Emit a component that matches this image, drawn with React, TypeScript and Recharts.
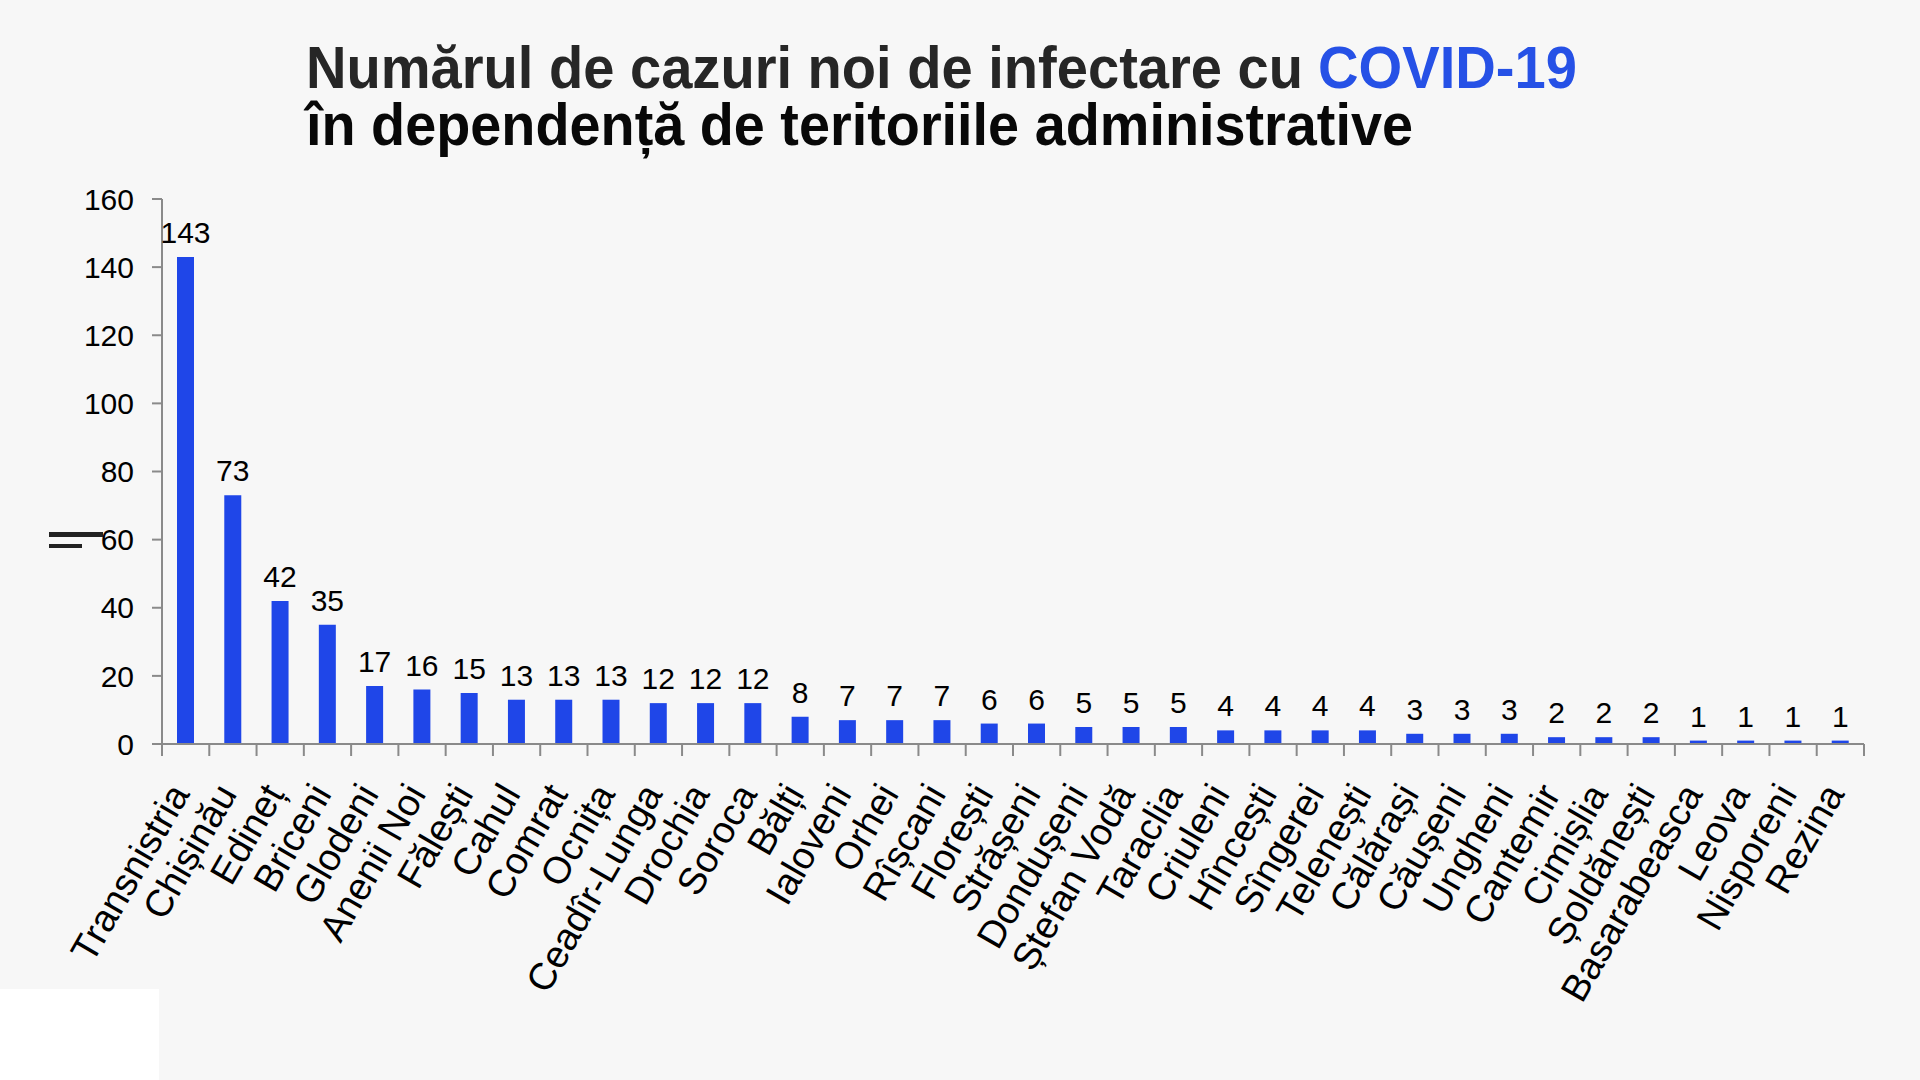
import React from 'react';
import { BarChart, Bar, XAxis, YAxis, LabelList } from 'recharts';

const TERRITORIES = [
    'Transnistria', 'Chișinău', 'Edineț', 'Briceni', 'Glodeni', 'Anenii Noi', 'Fălești', 'Cahul', 'Comrat',
    'Ocnița', 'Ceadîr-Lunga', 'Drochia', 'Soroca', 'Bălți', 'Ialoveni', 'Orhei', 'Rîșcani', 'Florești',
    'Strășeni', 'Dondușeni', 'Ștefan Vodă', 'Taraclia', 'Criuleni', 'Hîncești', 'Sîngerei', 'Telenești',
    'Călărași', 'Căușeni', 'Ungheni', 'Cantemir', 'Cimișlia', 'Șoldănești', 'Basarabeasca', 'Leova',
    'Nisporeni', 'Rezina',
];
const NEW_CASES = [
    143, 73, 42, 35, 17, 16, 15, 13, 13, 13, 12, 12, 12, 8, 7, 7, 7, 6,
    6, 5, 5, 5, 4, 4, 4, 4, 3, 3, 3, 2, 2, 2, 1, 1, 1, 1,
];
const Y_TICKS = [0, 20, 40, 60, 80, 100, 120, 140, 160];
const TITLE_LINE_1 = 'Numărul de cazuri noi de infectare cu';
const TITLE_HIGHLIGHT = 'COVID-19';
const TITLE_LINE_2 = 'în dependență de teritoriile administrative';

const DATA = TERRITORIES.map((name, i) => ({ name, value: NEW_CASES[i] }));

const W = 1920;
const H = 1080;
const FONT = '"Liberation Sans", Arial, sans-serif';
const AXIS = '#8a8a8a';
const BLUE = '#1f46e8';
const M = { top: 199, right: 56, left: 0, bottom: 36 };
const Y_AXIS_W = 162;
const X_AXIS_H = 300;
const HALF_BAND = (W - M.left - M.right - Y_AXIS_W) / TERRITORIES.length / 2;

function CategoryTick(props: any) {
    const { x, y, payload, index } = props;
    const last = index === TERRITORIES.length - 1;
    const lx = x + 5;
    const ly = y + 50;
    return (
        <g>
            <line x1={x - HALF_BAND} y1={y} x2={x - HALF_BAND} y2={y + 12} stroke={AXIS} strokeWidth={2} />
            {last && <line x1={x + HALF_BAND} y1={y} x2={x + HALF_BAND} y2={y + 12} stroke={AXIS} strokeWidth={2} />}
            <text x={lx} y={ly} textAnchor="end" fill="#000" fontSize={38} fontFamily={FONT}
                transform={`rotate(-60 ${lx} ${ly})`}>
                {payload.value}
            </text>
        </g>
    );
}

export default function App() {
    return (
        <div style={{ position: 'fixed', left: 0, top: 0, width: W, height: H, background: '#f7f7f7', overflow: 'hidden' }}>
            <svg width={W} height={180} style={{ position: 'absolute', left: 0, top: 0 }}>
                <text x={306} y={88} fontSize={60} fontWeight={700} fontFamily={FONT} fill="#262626"
                    textLength={997} lengthAdjust="spacingAndGlyphs">
                    {TITLE_LINE_1}
                </text>
                <text x={1318} y={88} fontSize={60} fontWeight={700} fontFamily={FONT} fill="#2651e6"
                    textLength={259} lengthAdjust="spacingAndGlyphs">
                    {TITLE_HIGHLIGHT}
                </text>
                <text x={306} y={145} fontSize={60} fontWeight={700} fontFamily={FONT} fill="#080808"
                    textLength={1107} lengthAdjust="spacingAndGlyphs">
                    {TITLE_LINE_2}
                </text>
            </svg>

            <div style={{ position: 'absolute', left: 0, top: 0 }}>
                <BarChart width={W} height={H} data={DATA} margin={M} barSize={17}>
                    <XAxis dataKey="name" interval={0} height={X_AXIS_H} tickSize={0} tickMargin={0} tickLine={false}
                        axisLine={{ stroke: AXIS, strokeWidth: 2 }} tick={<CategoryTick />} />
                    <YAxis type="number" domain={[0, 160]} ticks={Y_TICKS} width={Y_AXIS_W} interval={0}
                        tickSize={10} tickMargin={18}
                        axisLine={{ stroke: AXIS, strokeWidth: 2 }} tickLine={{ stroke: AXIS, strokeWidth: 2 }}
                        tick={{ fill: '#000', fontSize: 30, fontFamily: FONT }} />
                    <Bar dataKey="value" fill={BLUE} isAnimationActive={false}>
                        <LabelList dataKey="value" position="top" offset={14} fill="#000" fontSize={30} fontFamily={FONT} />
                    </Bar>
                </BarChart>
            </div>

            <div style={{ position: 'absolute', left: 49, top: 532, width: 54, height: 4.5, background: '#222' }} />
            <div style={{ position: 'absolute', left: 49, top: 543.5, width: 33, height: 4.5, background: '#222' }} />
            <div style={{ position: 'absolute', left: 0, top: 989, width: 159, height: 91, background: '#fff' }} />
        </div>
    );
}
